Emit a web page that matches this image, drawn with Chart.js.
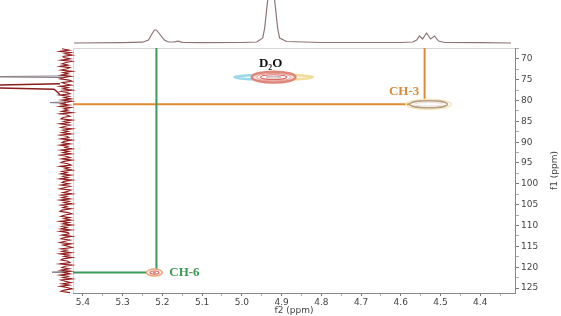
<!DOCTYPE html>
<html>
<head>
<meta charset="utf-8">
<script src="https://cdn.jsdelivr.net/npm/chart.js@4.4.1/dist/chart.umd.min.js"></script>
<style>
  html, body { margin: 0; padding: 0; background: #fff; }
  #wrap { position: relative; width: 561px; height: 316px; }
</style>
</head>
<body>
<div id="wrap"><canvas id="chart" width="561" height="316"></canvas></div>
<script>
// ejes: f2 (1H) y f1 (13C), en ppm
const f2TickLabels = [5.4, 5.3, 5.2, 5.1, 5.0, 4.9, 4.8, 4.7, 4.6, 4.5, 4.4];
const f2MinorTicks = [5.35, 5.25, 5.15, 5.05, 4.95, 4.85, 4.75, 4.65, 4.55, 4.45, 4.35];
const f1TickLabels = [70, 75, 80, 85, 90, 95, 100, 105, 110, 115, 120, 125];
const f1MinorTicks = [67.5, 72.5, 77.5, 82.5, 87.5, 92.5, 97.5, 102.5, 107.5, 112.5, 117.5, 122.5];
const f2Range = [4.3125, 5.425];
const f1Range = [67.4, 126.2];

// picos de correlacion (centro y semi-anchura del contorno externo)
const peakNames = ['D\u2082O', 'CH-3', 'CH-6'];
const peakF2 = [4.92, 4.53, 5.22];
const peakF1 = [74.4, 80.9, 121.3];
const peakHalfF2 = [0.055, 0.0475, 0.02];
const peakHalfF1 = [1.3, 0.84, 0.84];

// lineas de asignacion: [CH-6, CH-3]
const guideF2 = [5.215, 4.54];
const guideF1 = [121.3, 80.9];

// proyeccion 1H (arriba)
const topF2 = [5.4225, 5.30, 5.25, 5.235, 5.225, 5.22, 5.215, 5.205, 5.195, 5.185, 5.17, 5.16, 5.15, 5.10,
  5.00, 4.9625, 4.9475, 4.9425, 4.935, 4.93, 4.926, 4.922, 4.9175, 4.91, 4.905, 4.8875, 4.80,
  4.60, 4.57, 4.56, 4.553, 4.545, 4.535, 4.525, 4.515, 4.505, 4.49, 4.40, 4.3225];
const topInt = [0, 0.3, 0.8, 3, 10, 13, 13, 8, 3, 1, 1.2, 1.8, 0.6, 0.3,
  0.5, 1, 5, 15, 43, 90, 110, 90, 43, 15, 5, 1.5, 0.5,
  0.5, 1, 3, 7, 4, 10, 4, 7, 2, 0.5, 0.3, 0];

// proyeccion 13C (izquierda): ruido y senales
const leftF1Start = 67.6;
const leftF1Step = 0.3;
const leftNoise = [
  4, -3, 6, -5, 1, -6, 3, 2, -4, 5, -6, 0, 4, -2, 6, -4, -1, 5, -6, 3,
  -2, 5, -5, 2, 6, -3, -6, 4, 1, -5, 6, -2, 3, -6, 5, -1, -4, 6, -3, 2,
  -5, 4, -6, 1, 5, -3, 6, -5, 2, -2, 4, -6, 6, -1, -4, 3, 5, -6, 2, -3,
  6, -4, 1, 5, -6, 3, -2, 4, -5, 6, -1, -3, 5, -6, 2, 4, -4, 6, -2, 1,
  -6, 5, -3, 3, -5, 6, 0, -4, 4, -6, 2, 5, -2, -5, 6, -3, 1, -6, 4, -1,
  5, -5, 3, -2, 6, -6, 2, 4, -3, 5, -4, 1, 6, -5, -2, 3, -6, 5, -1, 4,
  -4, 6, -3, 2, -6, 5, -1, 3, -5, 4, 6, -2, -6, 1, 5, -4, 2, -5, 6, -3,
  3, -6, 4, -1, 5, -5, 6, -2, -3, 4, -6, 2, 5, -4, 1, 6, -5, 3, -2, -6,
  5, -1, 4, -5, 6, -3, 2, -6, 3, 5, -2, -4, 6, -6, 1, 4, -3, 5, -5, 2,
  -4, 6, -2, 3, -6, 5, 1, -5, 4, -3, 6, -1, -6, 2, 5, -4];
const leftRedF1 = [76.0, 76.35, 76.9, 77.3, 77.9, 78.6];
const leftRedInt = [6, 80, 80, 12, 9, 6];
const leftGreyF1 = [74.1, 74.3, 74.5, null, 80.3, 80.5, 80.7, null, 121.0, 121.2, 121.4];
const leftGreyInt = [0, 90, 0, null, 0, 16, 0, null, 0, 14, 0];

const tickFont = { family: 'DejaVu Sans', size: 9 };
const labelFont = 'bold 13px "Liberation Serif", "Times New Roman", serif';

const pts = (xs, ys) => xs.map((x, i) => ({ x: x, y: ys[i] }));

const noisePts = leftNoise.map((v, i) => ({ x: v, y: leftF1Start + i * leftF1Step }));

function guide(i) {
  return [
    { x: f2Range[1], y: guideF1[i] },
    { x: guideF2[i], y: guideF1[i] },
    { x: guideF2[i], y: f1Range[0] }
  ];
}

// estilos de contorno por pico: factores sobre la semi-anchura
const contourStyles = [
  { wing: { fx: 1.8, fy: 0.45, left: '#9ad8ea', right: '#f2dc9a' },
    rings: [[1, 1, '#e0857a', 2.5, '#f7dcd6'], [0.78, 0.7, '#e49a90', 1, '#fff'],
            [0.6, 0.45, '#d86a66', 1.2, '#fff'], [0.35, 0.15, '#c9b3b3', 1, null]] },
  { rings: [[1.2, 1.45, '#f4e6bd', 1.5, null], [1, 1, '#b79c84', 1.5, '#fff'],
            [0.75, 0.5, '#e8ded6', 1, null]] },
  { rings: [[1, 1, '#eaa577', 1.5, '#fdf1ea'], [0.55, 0.45, '#d46a6a', 1.2, '#fff'],
            [0.2, 0.15, '#d46a6a', 1, null]] }
];
const labelStyles = [
  { color: '#111', dx: -3, dy: -14 },
  { color: '#d98a3d', dx: -24.5, dy: -12.5 },
  { color: '#3d9a55', dx: 30, dy: 0 }
];

const nmrPlugin = {
  id: 'nmr',
  beforeDatasetsDraw(chart) {
    const { ctx, chartArea: a } = chart;
    ctx.save();
    ctx.strokeStyle = '#d6d6d6';
    ctx.lineWidth = 1;
    ctx.beginPath();
    ctx.moveTo(a.left + 0.5, a.bottom);
    ctx.lineTo(a.left + 0.5, a.top + 0.5);
    ctx.lineTo(a.right, a.top + 0.5);
    ctx.stroke();
    ctx.restore();
  },
  afterDatasetsDraw(chart) {
    const { ctx } = chart;
    const xs = chart.scales.x, ys = chart.scales.y;
    ctx.save();
    peakNames.forEach((name, i) => {
      const px = xs.getPixelForValue(peakF2[i]);
      const py = ys.getPixelForValue(peakF1[i]);
      const rx = Math.abs(xs.getPixelForValue(peakF2[i] + peakHalfF2[i]) - px);
      const ry = Math.abs(ys.getPixelForValue(peakF1[i] + peakHalfF1[i]) - py);
      const st = contourStyles[i];
      if (st.wing) {
        ctx.lineWidth = 2.5;
        ctx.strokeStyle = st.wing.left;
        ctx.beginPath();
        ctx.ellipse(px, py, rx * st.wing.fx, ry * st.wing.fy, 0, Math.PI / 2, Math.PI * 1.5);
        ctx.stroke();
        ctx.strokeStyle = st.wing.right;
        ctx.beginPath();
        ctx.ellipse(px, py, rx * st.wing.fx, ry * st.wing.fy, 0, -Math.PI / 2, Math.PI / 2);
        ctx.stroke();
      }
      st.rings.forEach(r => {
        ctx.beginPath();
        ctx.ellipse(px, py, rx * r[0], ry * r[1], 0, 0, Math.PI * 2);
        if (r[4]) { ctx.fillStyle = r[4]; ctx.fill(); }
        ctx.strokeStyle = r[2];
        ctx.lineWidth = r[3];
        ctx.stroke();
      });
      const ls = labelStyles[i];
      ctx.font = labelFont;
      ctx.fillStyle = ls.color;
      ctx.textAlign = 'center';
      ctx.textBaseline = 'middle';
      ctx.fillText(name, px + ls.dx, py + ls.dy);
    });
    // titulo del eje f1 (de abajo hacia arriba)
    ctx.font = '9px "DejaVu Sans"';
    ctx.fillStyle = '#444';
    ctx.textAlign = 'center';
    ctx.textBaseline = 'middle';
    ctx.translate(ys.right - 6, (ys.top + ys.bottom) / 2);
    ctx.rotate(-Math.PI / 2);
    ctx.fillText('f1 (ppm)', 0, 0);
    ctx.restore();
  }
};

const line = (data, color, width, xID, yID) => ({
  data: data, borderColor: color, borderWidth: width, showLine: true,
  pointRadius: 0, clip: false, spanGaps: false, xAxisID: xID, yAxisID: yID
});

new Chart(document.getElementById('chart'), {
  type: 'scatter',
  data: {
    datasets: [
      line(guide(0), '#3a9a5a', 2, 'x', 'y'),
      line(guide(1), '#e08a35', 2, 'x', 'y'),
      line(pts(topF2, topInt), '#8e7474', 1.2, 'x', 'yT'),
      line(pts(leftRedInt, leftRedF1), '#8b1c1c', 1.5, 'xL', 'y'),
      line(noisePts, '#931d1d', 1.1, 'xL', 'y'),
      line(pts(leftGreyInt, leftGreyF1), '#8a7d86', 1, 'xL', 'y')
    ]
  },
  options: {
    responsive: false,
    animation: false,
    layout: { padding: { top: 48, left: 73, right: 0, bottom: 0 } },
    plugins: { legend: { display: false }, tooltip: { enabled: false } },
    scales: {
      x: {
        type: 'linear', position: 'bottom', reverse: true,
        min: f2Range[0], max: f2Range[1],
        afterBuildTicks: s => { s.ticks = f2TickLabels.concat(f2MinorTicks).map(v => ({ value: v })); },
        afterFit: s => { s.height = 23; },
        ticks: {
          font: tickFont, color: '#444', padding: 1, maxRotation: 0, autoSkip: false,
          callback: v => f2TickLabels.includes(v) ? v.toFixed(1) : ''
        },
        grid: {
          drawOnChartArea: false, drawTicks: true, tickLength: 3,
          tickColor: c => (c.tick && f2TickLabels.includes(c.tick.value)) ? '#777' : '#aaa'
        },
        border: { color: '#888' },
        title: { display: true, text: 'f2 (ppm)', font: tickFont, color: '#444', padding: { top: 0, bottom: 0 } }
      },
      y: {
        type: 'linear', position: 'right', reverse: true,
        min: f1Range[0], max: f1Range[1],
        afterBuildTicks: s => { s.ticks = f1TickLabels.concat(f1MinorTicks).map(v => ({ value: v })); },
        afterFit: s => { s.width = 46; },
        ticks: {
          font: tickFont, color: '#444', padding: 2, autoSkip: false,
          callback: v => f1TickLabels.includes(v) ? String(v) : ''
        },
        grid: {
          drawOnChartArea: false, drawTicks: true, tickLength: 4,
          tickColor: c => (c.tick && f1TickLabels.includes(c.tick.value)) ? '#777' : '#aaa'
        },
        border: { color: '#888' }
      },
      xL: { type: 'linear', axis: 'x', display: false, reverse: true, min: -449, max: -7 },
      yT: { type: 'linear', axis: 'y', display: false, min: -250, max: -5 }
    }
  },
  plugins: [nmrPlugin]
});
</script>
</body>
</html>
